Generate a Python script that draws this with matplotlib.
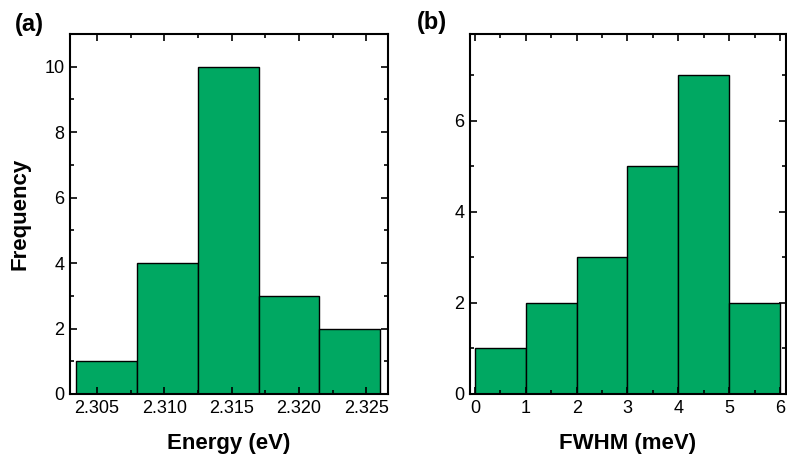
import numpy as np
import matplotlib
matplotlib.use("Agg")
import matplotlib.pyplot as plt
from matplotlib.ticker import MultipleLocator

plt.rcParams['font.family'] = ['Liberation Sans', 'DejaVu Sans']

# histogram data
energy_edges  = [2.30347, 2.30798, 2.31249, 2.31700, 2.32151, 2.32602]
energy_counts = [1, 4, 10, 3, 2]

fwhm_edges  = [0, 1, 2, 3, 4, 5, 6]
fwhm_counts = [1, 2, 3, 5, 7, 2]

BAR_COLOR = "#00a862"

W, H = 787, 463
fig = plt.figure(figsize=(W / 100, H / 100), dpi=100)


def px_axes(left, top, right, bottom):
    return fig.add_axes([left / W, 1 - bottom / H, (right - left) / W, (bottom - top) / H])


def style(ax):
    for sp in ax.spines.values():
        sp.set_linewidth(1.5)
    ax.tick_params(which='both', direction='in', top=True, right=True,
                   labelsize=13, width=1.2)
    ax.tick_params(which='major', length=5, pad=4)
    ax.tick_params(which='minor', length=3)


def hist_bars(ax, edges, counts):
    edges = np.asarray(edges)
    ax.bar(edges[:-1], counts, width=np.diff(edges), align='edge',
           color=BAR_COLOR, edgecolor='black', linewidth=1.0)


# (a) energy
ax1 = px_axes(70, 34, 388, 394)
hist_bars(ax1, energy_edges, energy_counts)
ax1.set_xlim(2.3030, 2.3266)
ax1.set_ylim(0, 11)
ax1.xaxis.set_major_locator(MultipleLocator(0.005))
ax1.xaxis.set_minor_locator(MultipleLocator(0.0025))
ax1.yaxis.set_major_locator(MultipleLocator(2))
ax1.yaxis.set_minor_locator(MultipleLocator(1))
ax1.xaxis.set_major_formatter(plt.FormatStrFormatter('%.3f'))
style(ax1)
ax1.set_xlabel("Energy (eV)", fontsize=16, fontweight='bold', labelpad=12)
ax1.set_ylabel("Frequency", fontsize=16, fontweight='bold', labelpad=10)
fig.text(15 / W, 1 - 25 / H, "(a)", fontsize=17, fontweight='bold', va='center')

# (b) FWHM
ax2 = px_axes(470, 34, 786, 394)
hist_bars(ax2, fwhm_edges, fwhm_counts)
ax2.set_xlim(-0.1, 6.12)
ax2.set_ylim(0, 7.9)
ax2.xaxis.set_major_locator(MultipleLocator(1))
ax2.xaxis.set_minor_locator(MultipleLocator(0.5))
ax2.yaxis.set_major_locator(MultipleLocator(2))
ax2.yaxis.set_minor_locator(MultipleLocator(1))
style(ax2)
ax2.set_xlabel("FWHM (meV)", fontsize=16, fontweight='bold', labelpad=12)
fig.text(417 / W, 1 - 22 / H, "(b)", fontsize=17, fontweight='bold', va='center')

fig.savefig("out.png", dpi=100)
